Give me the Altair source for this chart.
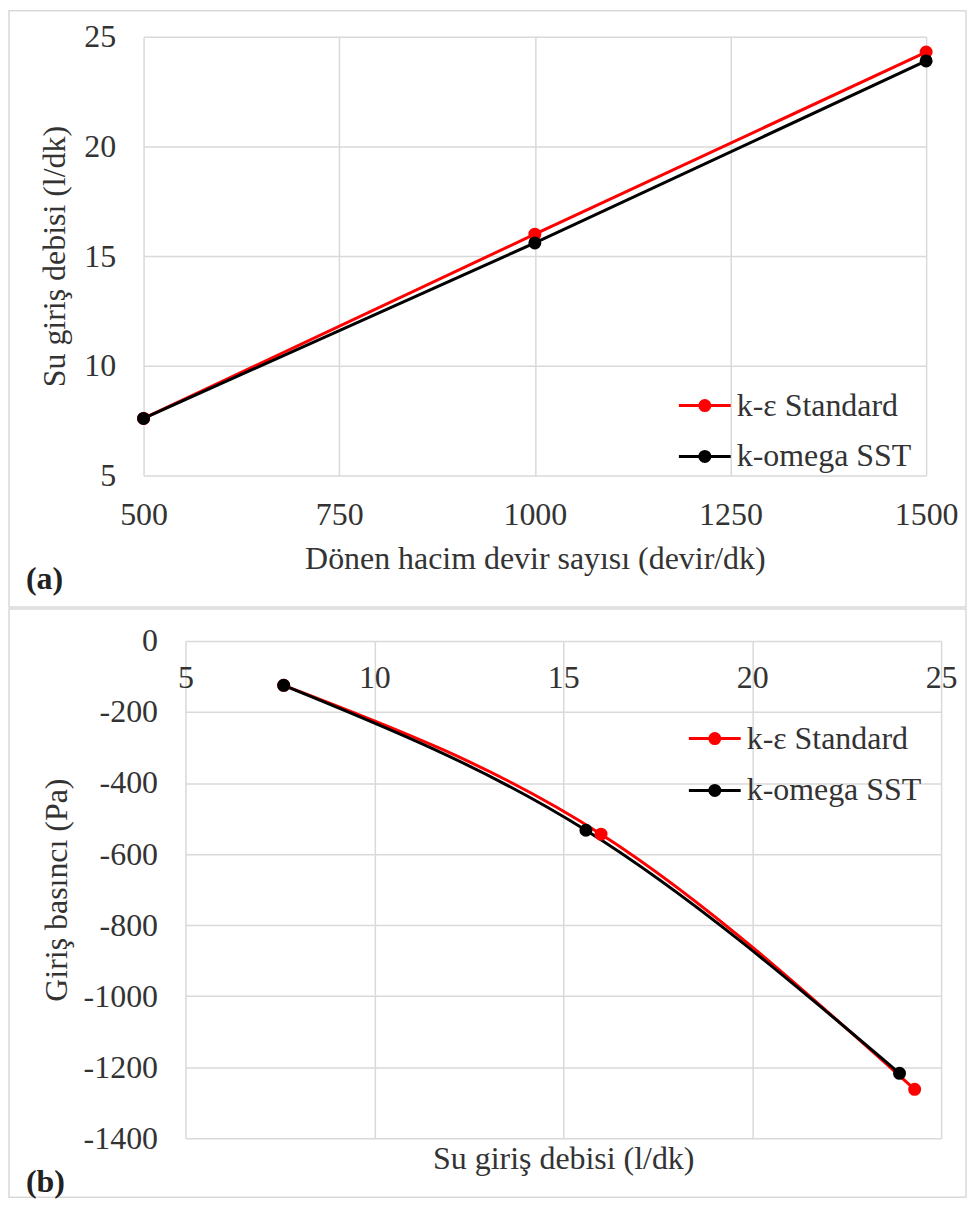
import altair as alt
import pandas as pd

# ---- data ----
series = ["k-ε Standard", "k-omega SST"]
colors = ["#ff0000", "#000000"]

rpm = [500, 1000, 1500]                 # Dönen hacim devir sayısı (devir/dk)
flow_ke = [7.6, 16.0, 24.3]             # Su giriş debisi (l/dk), k-ε Standard
flow_sst = [7.6, 15.6, 23.9]            # Su giriş debisi (l/dk), k-omega SST
p_ke = [-125, -544, -1262]              # Giriş basıncı (Pa), k-ε Standard
p_sst = [-125, -533, -1217]             # Giriş basıncı (Pa), k-omega SST

x_ticks_a = [500, 750, 1000, 1250, 1500]
y_ticks_a = [5, 10, 15, 20, 25]
x_ticks_b = [5, 10, 15, 20, 25]
y_ticks_b = [0, -200, -400, -600, -800, -1000, -1200, -1400]

FONT = "Liberation Serif, Times New Roman, serif"
TXT = "#333333"
GRID = "#d9d9d9"
FS = 32
LBL = "'' + datum.value"
DOT = 170

df_a = pd.DataFrame({
    "rpm": rpm + rpm,
    "flow": flow_ke + flow_sst,
    "model": [series[0]] * 3 + [series[1]] * 3,
})
df_b = pd.DataFrame({
    "flow": flow_ke + flow_sst,
    "p": p_ke + p_sst,
    "model": [series[0]] * 3 + [series[1]] * 3,
})
df_leg = pd.DataFrame({"model": series})
one = pd.DataFrame({"k": [0]})

cscale = alt.Scale(domain=series, range=colors)


def legend_layers(x0, y0, y1):
    ly = alt.Y("model:N", scale=alt.Scale(type="point", domain=series, range=[y0, y1], padding=0),
               axis=None)
    base = alt.Chart(df_leg)
    rule = base.mark_rule(strokeWidth=3).encode(
        x=alt.value(x0), x2=alt.value(x0 + 52), y=ly,
        color=alt.Color("model:N", scale=cscale, legend=None))
    dot = base.mark_point(filled=True, opacity=1, size=DOT).encode(
        x=alt.value(x0 + 26), y=ly,
        color=alt.Color("model:N", scale=cscale, legend=None))
    txt = base.mark_text(align="left", baseline="middle", font=FONT, fontSize=FS,
                         color=TXT).encode(x=alt.value(x0 + 58), y=ly, text="model:N")
    return [rule, dot, txt]


# ---------------- panel (a) ----------------
# both panels share the same origin (page x=185); panel (a)'s plot starts 42px further left
W, H_A = 758, 440
xa = alt.X("rpm:Q", scale=alt.Scale(domain=[500, 1500], range=[-42, 743], nice=False, zero=False),
           axis=alt.Axis(values=x_ticks_a, title="Dönen hacim devir sayısı (devir/dk)",
                         labelExpr=LBL, labelPadding=24, titlePadding=13))
ya = alt.Y("flow:Q", scale=alt.Scale(domain=[5, 25], nice=False, zero=False),
           axis=alt.Axis(values=y_ticks_a, title="Su giriş debisi (l/dk)", offset=42,
                         labelExpr=LBL, labelPadding=28, titlePadding=12))
ya_n = alt.Y("flow:Q", scale=alt.Scale(domain=[5, 25], nice=False, zero=False), axis=None)

frame_a = alt.Chart(one).mark_rect(fillOpacity=0, stroke=GRID, strokeWidth=1.5).encode(
    x=alt.value(-177), x2=alt.value(783), y=alt.value(-26), y2=alt.value(572))
line_a = alt.Chart(df_a).mark_line(strokeWidth=3).encode(
    x=xa, y=ya, color=alt.Color("model:N", scale=cscale, legend=None))
pt_a = alt.Chart(df_a).mark_point(filled=True, opacity=1, size=DOT).encode(
    x=xa, y=ya_n, color=alt.Color("model:N", scale=cscale, legend=None))
lab_a = alt.Chart(one).mark_text(text="(a)", font=FONT, fontSize=FS, fontWeight="bold",
                                 align="left", baseline="middle", color="#222222").encode(
    x=alt.value(-160), y=alt.value(544))

chart_a = alt.layer(frame_a, line_a, pt_a, *legend_layers(495, 370, 421), lab_a).resolve_scale(
    y="independent").properties(width=W, height=H_A)

# ---------------- panel (b) ----------------
H_B = 499
sbx = alt.Scale(domain=[5, 25], nice=False, zero=False)
sby = alt.Scale(domain=[-1400, 0], nice=False, zero=False)
yb = alt.Y("p:Q", scale=sby,
           axis=alt.Axis(values=y_ticks_b, title="Giriş basıncı (Pa)",
                         labelExpr=LBL, labelPadding=28, titlePadding=10))
yb_n = alt.Y("p:Q", scale=sby, axis=None)
xb_grid = alt.X("flow:Q", scale=sbx,
                axis=alt.Axis(values=x_ticks_b, labels=False, title="Su giriş debisi (l/dk)",
                              titlePadding=5))
xb_lab = alt.X("flow:Q", scale=sbx,
               axis=alt.Axis(values=x_ticks_b, grid=False, orient="top", title=None,
                             labelExpr=LBL, labelBaseline="middle", labelPadding=-37))

frame_b = alt.Chart(one).mark_rect(fillOpacity=0, stroke=GRID, strokeWidth=1.5).encode(
    x=alt.value(-177), x2=alt.value(783), y=alt.value(-32), y2=alt.value(558))
line_b = alt.Chart(df_b).mark_line(strokeWidth=3, interpolate="monotone").encode(
    x=xb_grid, y=yb, color=alt.Color("model:N", scale=cscale, legend=None))
pt_b = alt.Chart(df_b).mark_point(filled=True, opacity=1, size=DOT).encode(
    x=xb_lab, y=yb_n, color=alt.Color("model:N", scale=cscale, legend=None))
lab_b = alt.Chart(one).mark_text(text="(b)", font=FONT, fontSize=FS, fontWeight="bold",
                                 align="left", baseline="middle", color="#222222").encode(
    x=alt.value(-160), y=alt.value(543))

chart_b = alt.layer(frame_b, line_b, pt_b, *legend_layers(505, 98, 150), lab_b).resolve_scale(
    y="independent").resolve_axis(x="independent").properties(width=W, height=H_B)

chart = alt.vconcat(chart_a, chart_b, spacing=0).properties(
    padding=0, background="white"
).configure_axis(
    labelFont=FONT, titleFont=FONT, labelFontSize=FS, titleFontSize=FS,
    labelColor=TXT, titleColor=TXT, titleFontWeight="normal",
    gridColor=GRID, gridWidth=1.5, domain=False, ticks=False,
    labelFlush=False, labelOverlap=False,
).configure_view(strokeWidth=0)

chart.save("out.html", embed_options={"renderer": "svg", "actions": False})
